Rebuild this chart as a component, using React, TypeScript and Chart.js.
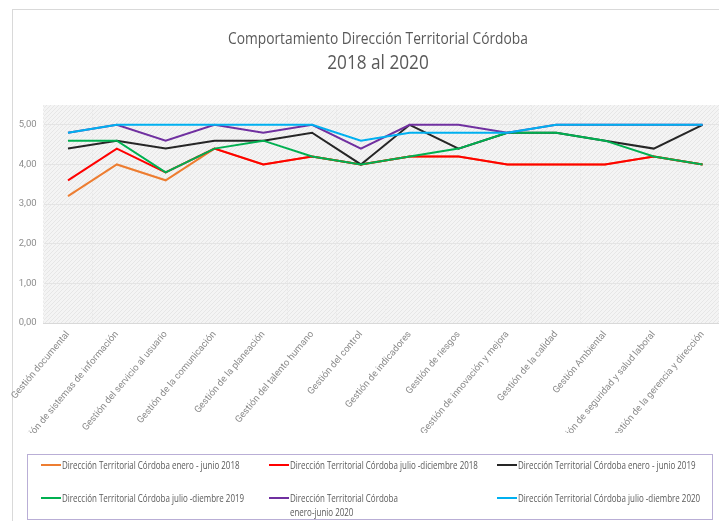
import React, { useEffect, useRef } from "react";
import { Chart, registerables } from "chart.js";

Chart.register(...registerables);

const chartTitle = "Comportamiento Dirección Territorial Córdoba";
const chartSubtitle = "2018 al 2020";

const categories = [
  "Gestión documental",
  "Gestión de sistemas de información",
  "Gestión del servicio al usuario",
  "Gestión de la comunicación",
  "Gestión de la planeación",
  "Gestión del talento humano",
  "Gestión del control",
  "Gestión de indicadores",
  "Gestión de riesgos",
  "Gestión de innovación y mejora",
  "Gestión de la calidad",
  "Gestión Ambiental",
  "Gestión de seguridad y salud laboral",
  "Gestión de la gerencia y dirección",
];

const seriesNames = [
  "Dirección Territorial Córdoba enero - junio 2018",
  "Dirección Territorial Córdoba julio -diciembre 2018",
  "Dirección Territorial Córdoba enero - junio 2019",
  "Dirección Territorial Córdoba julio -diembre 2019",
  "Dirección Territorial Córdoba\nenero-junio 2020",
  "Dirección Territorial Córdoba julio -diembre 2020",
];

const ene2018 = [3.2, 4.0, 3.6, 4.4, 4.0, 4.2, 4.0, 4.2, 4.2, 4.0, 4.0, 4.0, 4.2, 4.0];
const jul2018 = [3.6, 4.4, 3.8, 4.4, 4.0, 4.2, 4.0, 4.2, 4.2, 4.0, 4.0, 4.0, 4.2, 4.0];
const ene2019 = [4.4, 4.6, 4.4, 4.6, 4.6, 4.8, 4.0, 5.0, 4.4, 4.8, 4.8, 4.6, 4.4, 5.0];
const jul2019 = [4.6, 4.6, 3.8, 4.4, 4.6, 4.2, 4.0, 4.2, 4.4, 4.8, 4.8, 4.6, 4.2, 4.0];
const ene2020 = [4.8, 5.0, 4.6, 5.0, 4.8, 5.0, 4.4, 5.0, 5.0, 4.8, 5.0, 5.0, 5.0, 5.0];
const jul2020 = [4.8, 5.0, 5.0, 5.0, 5.0, 5.0, 4.6, 4.8, 4.8, 4.8, 5.0, 5.0, 5.0, 5.0];

const seriesValues = [ene2018, jul2018, ene2019, jul2019, ene2020, jul2020];
const seriesColors = ["#ED7D31", "#FF0000", "#262626", "#00B050", "#7030A0", "#00B0F0"];

const yTicks = [0, 1, 2, 3, 4, 5];

const FONT = 'Roboto, "Open Sans", sans-serif';
const HFONT = '"Open Sans", Roboto, sans-serif';

const bgPlugin = {
  id: "plotBg",
  beforeDraw(chart: any) {
    const { ctx, chartArea } = chart;
    if (!chartArea) return;
    const pc = document.createElement("canvas");
    pc.width = 4;
    pc.height = 4;
    const p = pc.getContext("2d")!;
    p.fillStyle = "#f4f4f4";
    p.fillRect(0, 0, 4, 4);
    p.fillStyle = "#e6e6e6";
    for (let i = 0; i < 4; i++) p.fillRect(i, 3 - i, 1, 1);
    const pat = ctx.createPattern(pc, "repeat");
    ctx.save();
    ctx.fillStyle = pat || "#efefef";
    ctx.fillRect(chartArea.left, chartArea.top, chartArea.right - chartArea.left, chartArea.bottom - chartArea.top);
    ctx.restore();
  },
};

export default function App() {
  const ref = useRef<HTMLCanvasElement>(null);

  useEffect(() => {
    if (!ref.current) return;
    const chart = new Chart(ref.current, {
      type: "line",
      data: {
        labels: categories,
        datasets: seriesValues.map((vals, i) => ({
          label: seriesNames[i],
          data: vals,
          borderColor: seriesColors[i],
          backgroundColor: seriesColors[i],
          borderWidth: 2,
          pointRadius: 0,
          tension: 0,
          order: seriesValues.length - i,
        })),
      },
      options: {
        responsive: false,
        animation: false,
        layout: { padding: { top: 105, left: 0, right: 3, bottom: 88 } },
        plugins: {
          legend: { display: false },
          tooltip: { enabled: false },
          title: { display: false },
        },
        scales: {
          x: {
            offset: true,
            grid: { color: "#ebebeb", drawTicks: false, offset: true },
            border: { color: "#d9d9d9", dash: [2, 2] },
            ticks: {
              color: "#8c8c8c",
              font: { family: FONT, size: 9.5 },
              minRotation: 50,
              maxRotation: 50,
              autoSkip: false,
              padding: 6,
            },
            afterFit: (s: any) => {
              s.height = 110;
            },
          },
          y: {
            min: 0,
            max: 5.5,
            afterBuildTicks: (axis: any) => {
              axis.ticks = yTicks.map((v) => ({ value: v }));
            },
            grid: { color: "#e4e4e4", drawTicks: false },
            border: { display: false },
            ticks: {
              color: "#8c8c8c",
              font: { family: FONT, size: 9.5 },
              padding: 7,
              callback: (v: any) => Number(v).toFixed(2).replace(".", ","),
            },
            afterFit: (s: any) => {
              s.width = 43.6;
            },
          },
        },
      },
      plugins: [bgPlugin],
    });
    return () => chart.destroy();
  }, []);

  const colLeft = [13, 241, 469];
  const rowTop = [3, 36];

  return (
    <div style={{ position: "absolute", left: 0, top: 0, width: 719, height: 521, overflow: "hidden", background: "#fff" }}>
      <div style={{ position: "absolute", left: 12, top: 9, width: 800, height: 600, border: "1px solid #d9d9d9" }} />
      <canvas ref={ref} width={730} height={521} style={{ position: "absolute", left: 0, top: 0, width: 730, height: 521 }} />
      <div
        style={{
          position: "absolute",
          left: 178,
          top: 27,
          width: 400,
          textAlign: "center",
          fontFamily: HFONT,
          color: "#595959",
        }}
      >
        <div style={{ fontSize: 16, lineHeight: "22px", transform: "scaleX(0.86)" }}>{chartTitle}</div>
        <div style={{ fontSize: 20, lineHeight: "26px", transform: "scaleX(0.86)" }}>{chartSubtitle}</div>
      </div>
      <div
        style={{
          position: "absolute",
          left: 27,
          top: 454,
          width: 684,
          height: 64,
          border: "1px solid #b9aed6",
          fontFamily: HFONT,
          fontSize: 10.5,
          color: "#595959",
        }}
      >
        {seriesNames.map((name, i) => (
          <div
            key={i}
            style={{
              position: "absolute",
              left: colLeft[i % 3],
              top: rowTop[Math.floor(i / 3)],
              display: "flex",
              alignItems: "flex-start",
              lineHeight: "14px",
              whiteSpace: "pre",
            }}
          >
            <span style={{ display: "inline-block", width: 20, height: 2, background: seriesColors[i], marginTop: 6, marginRight: 1, flex: "none" }} />
            <span style={{ display: "inline-block", transform: "scaleX(0.76)", transformOrigin: "left center" }}>{name}</span>
          </div>
        ))}
      </div>
    </div>
  );
}
